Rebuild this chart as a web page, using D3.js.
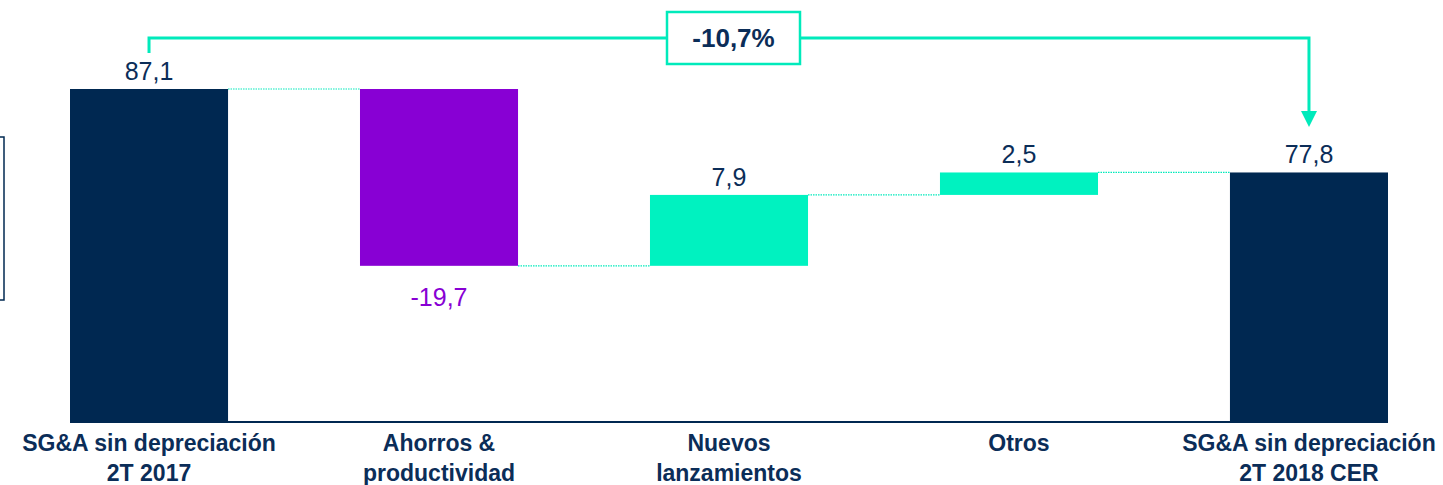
<!DOCTYPE html>
<html>
<head>
<meta charset="utf-8">
<script src="https://cdn.jsdelivr.net/npm/d3@7"></script>
<style>
  body { margin: 0; background: #fff; }
  svg { display: block; font-family: 'Liberation Sans', Arial, sans-serif; }
</style>
</head>
<body>
<svg width="1443" height="485"></svg>
<script>
const categories = [
  ['SG&A sin depreciación', '2T 2017'],
  ['Ahorros &', 'productividad'],
  ['Nuevos', 'lanzamientos'],
  ['Otros'],
  ['SG&A sin depreciación', '2T 2018 CER'],
];
const values = [87.1, -19.7, 7.9, 2.5, 77.8];
const kinds = ['total', 'delta', 'delta', 'delta', 'total'];
const changeLabel = '-10,7%';
const axisFloor = 50; // the chart's value axis does not start at zero

const navy = '#002851',
  purple = '#8800d4',
  teal = '#00f2c0',
  line = '#00eabb',
  textNavy = '#0b2d58';

const svg = d3.select('svg');
const fmt = d3.formatLocale({ decimal: ',', thousands: '.', grouping: [3], currency: ['', ''], minus: '-' }).format('.1f');

// running totals for the waterfall
let running = 0;
const bars = values.map((v, i) => {
  let start, end;
  if (kinds[i] === 'total') {
    start = axisFloor;
    end = v;
    running = v;
  } else {
    start = running;
    end = running + v;
    running = end;
  }
  return { i, v, kind: kinds[i], start, end, lines: categories[i] };
});

const x = d3.scaleBand().domain(d3.range(values.length)).range([70, 1388]).paddingInner(0.455).paddingOuter(0);
const y = d3.scaleLinear().domain([axisFloor, d3.max(values)]).range([422, 89]);
const bw = x.bandwidth();

const color = (d) => (d.kind === 'total' ? navy : d.v < 0 ? purple : teal);

// dotted connectors between bars
svg
  .append('g')
  .selectAll('line')
  .data(bars.slice(0, -1))
  .join('line')
  .attr('x1', (d) => x(d.i) + bw)
  .attr('x2', (d) => x(d.i + 1))
  .attr('y1', (d) => y(d.end))
  .attr('y2', (d) => y(d.end))
  .attr('stroke', line)
  .attr('stroke-width', 1.2)
  .attr('stroke-dasharray', '1.5,1');

// bars
svg
  .append('g')
  .selectAll('rect')
  .data(bars)
  .join('rect')
  .attr('x', (d) => x(d.i))
  .attr('width', bw)
  .attr('y', (d) => y(Math.max(d.start, d.end)))
  .attr('height', (d) => Math.abs(y(d.start) - y(d.end)))
  .attr('fill', color);

// base line
svg
  .append('line')
  .attr('x1', x(0))
  .attr('x2', x(values.length - 1) + bw)
  .attr('y1', y(axisFloor))
  .attr('y2', y(axisFloor))
  .attr('stroke', navy)
  .attr('stroke-width', 2);

// value labels
svg
  .append('g')
  .selectAll('text')
  .data(bars)
  .join('text')
  .attr('x', (d) => x(d.i) + bw / 2)
  .attr('y', (d) => (d.v < 0 ? y(d.end) + 40 : y(Math.max(d.start, d.end)) - 9))
  .attr('text-anchor', 'middle')
  .attr('font-size', 25)
  .attr('fill', (d) => (d.v < 0 ? purple : textNavy))
  .text((d) => fmt(d.v));

// category labels
svg
  .append('g')
  .selectAll('text')
  .data(bars)
  .join('text')
  .attr('x', (d) => x(d.i) + bw / 2)
  .attr('y', 451)
  .attr('text-anchor', 'middle')
  .attr('font-size', 23)
  .attr('font-weight', 'bold')
  .attr('fill', textNavy)
  .selectAll('tspan')
  .data((d) => d.lines)
  .join('tspan')
  .attr('x', function () { return this.parentNode.getAttribute('x'); })
  .attr('dy', (d, k) => (k === 0 ? 0 : 30))
  .text((d) => d);

// bracket showing the total change
const x0 = x(0) + bw / 2,
  x1 = x(values.length - 1) + bw / 2;
const topY = 38;
svg
  .append('path')
  .attr('d', `M${x0},53 V${topY} H${x1} V112`)
  .attr('fill', 'none')
  .attr('stroke', line)
  .attr('stroke-width', 3);
svg
  .append('path')
  .attr('d', `M${x1 - 8},111 L${x1 + 8},111 L${x1},127 Z`)
  .attr('fill', line);

const boxW = 133,
  boxH = 52,
  boxX = 667;
svg
  .append('rect')
  .attr('x', boxX)
  .attr('y', topY - boxH / 2)
  .attr('width', boxW)
  .attr('height', boxH)
  .attr('fill', '#fff')
  .attr('stroke', line)
  .attr('stroke-width', 2.5);
svg
  .append('text')
  .attr('x', boxX + boxW / 2)
  .attr('y', topY + 9)
  .attr('text-anchor', 'middle')
  .attr('font-size', 26)
  .attr('font-weight', 'bold')
  .attr('fill', textNavy)
  .text(changeLabel);

// partly visible box at the left edge
svg
  .append('rect')
  .attr('x', -60)
  .attr('y', 137)
  .attr('width', 64)
  .attr('height', 163)
  .attr('fill', 'none')
  .attr('stroke', navy)
  .attr('stroke-width', 1.5);
</script>
</body>
</html>
